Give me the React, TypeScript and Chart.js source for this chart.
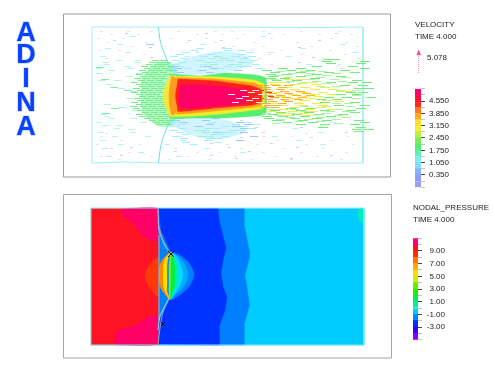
import React, { useEffect, useRef } from "react";
import { Chart, registerables } from "chart.js";

Chart.register(...registerables);

type P = number[];
const W = 495;
const H = 375;
const FONT = '"Liberation Sans", Arial, sans-serif';

/* ---------- colour bars ---------- */
const velocityTicks = [-0.35, 0, 0.35, 0.7, 1.05, 1.4, 1.75, 2.1, 2.45, 2.8, 3.15, 3.5, 3.85, 4.2, 4.55, 4.9, 5.25];
const velocityLabels = ["0.350", "1.050", "1.750", "2.450", "3.150", "3.850", "4.550"];
const velocityColors = ["#9a9ff0", "#8f9cff", "#88b4ff", "#88d8ff", "#80eeee", "#66eeb0", "#55ee77", "#77ee55", "#bbee44", "#eeee33", "#ffdd33", "#ffaa22", "#ff7722", "#ff2a22", "#ff1040", "#ff0070"];
const pressureTicks = [-5, -4, -3, -2, -1, 0, 1, 2, 3, 4, 5, 6, 7, 8, 9, 10, 11];
const pressureLabels = ["-3.00", "-1.00", "1.00", "3.00", "5.00", "7.00", "9.00"];
const pressureColors = ["#8800ff", "#3300ff", "#0033ff", "#0088ff", "#00ccff", "#00eeaa", "#00ee44", "#22ee00", "#66ee00", "#ccee00", "#ffdd00", "#ffaa00", "#ff7700", "#ff3000", "#ff1020", "#ff0080"];

/* ---------- top panel: flow speed contour bands ---------- */
const frameTop: P[] = [[63.5, 14], [390.5, 14], [390.5, 177], [63.5, 177], [63.5, 14]];
const domainTop: P[] = [[92, 27], [158, 27], [200, 27], [320, 27.5], [363, 27], [363, 163], [300, 163], [200, 163], [158, 163], [125, 162], [92, 163], [92, 27]];
const membraneTopA: P[] = [[158.5, 27], [160, 40], [163, 50], [167, 60], [172, 72]];
const membraneTopB: P[] = [[172, 117], [166, 130], [161, 145], [158.5, 163]];
const haloUp: P[] = [[142, 78], [150, 68], [162, 62], [172, 64], [176, 72], [176, 118], [172, 126], [160, 126], [150, 120], [142, 110]];
const jetCyanTop: P[] = [[170, 66], [195, 56], [230, 52], [254, 62], [225, 72], [200, 74], [176, 74]];
const jetCyanBottom: P[] = [[170, 124], [195, 136], [225, 138], [246, 130], [225, 120], [200, 118], [176, 116]];
const jetGreen: P[] = [[170, 74], [200, 76], [225, 73], [256, 75], [266, 78], [266, 114], [256, 116], [225, 118], [190, 118], [170, 118]];
const jetYellow: P[] = [[170, 76], [220, 77], [254, 80], [264, 84], [264, 108], [254, 110], [220, 114], [170, 116]];
const jetOrange: P[] = [[172, 77.5], [215, 79], [254, 83], [262, 87], [262, 105], [254, 107], [215, 111], [172, 113.5]];
const jetRed: P[] = [[175, 79], [215, 81], [252, 86], [261, 90], [261, 102], [252, 105], [215, 108], [175, 111]];
const jetPink: P[] = [[180, 85], [205, 85], [244, 90], [248, 96], [244, 103], [205, 107], [180, 107]];
const noseYellow: P[] = [[171, 75], [166, 84], [163, 96], [166, 108], [171, 117], [177, 112], [174, 96], [177, 79]];
const noseOrange: P[] = [[172, 76], [170, 85], [169, 96], [170, 108], [172, 115], [177, 111], [175, 96], [177, 80]];

/* ---------- top panel: velocity arrows, rows of [y, x, x, ...] ---------- */
const paleDots: P[] = [
  [31, 100, 127, 150, 177, 214, 231, 262, 300, 339], [34, 110, 137, 196, 221, 243, 282, 318, 350],
  [38, 97, 122, 170, 205, 236, 270, 330], [42, 106, 145, 186, 214, 253, 296, 345],
  [46, 130, 164, 232, 262, 310, 356], [50, 98, 118, 250, 280, 329], [54, 143, 268, 300, 344],
  [58, 105, 258, 322, 358], [64, 270, 338], [136, 100, 180, 262, 290, 346], [140, 120, 205, 242, 276, 330],
  [144, 96, 138, 226, 256, 305, 352], [148, 110, 174, 240, 283, 322], [152, 128, 196, 218, 262, 300, 345],
  [156, 100, 150, 186, 234, 274, 316], [159, 118, 168, 208, 250, 290, 340], [133, 105, 240, 305],
];
const lavDots: P[] = [
  [33, 125, 205, 268, 335], [40, 113, 188, 220, 318], [47, 149, 222, 298], [52, 196, 247, 352],
  [57, 150, 244, 312], [62, 240, 298], [68, 262, 340], [120, 240, 282], [127, 255, 300], [132, 262, 345],
  [137, 240, 310], [143, 210, 270], [147, 130, 228, 296], [151, 174, 248], [155, 120, 210, 330], [158, 235, 290],
];
const cyanFar: P[] = [
  [36, 130, 260], [44, 118, 200, 340], [48, 105, 226, 300],
  [52, 125, 268, 352], [56, 100, 184, 286], [60, 116, 135, 318], [64, 104, 306],
  [68, 96, 128], [116, 104, 300], [122, 96, 330], [128, 114, 292], [132, 98, 130, 318],
  [136, 112, 145, 272], [140, 100, 180, 296], [144, 118, 164, 320], [148, 102, 204],
  [152, 138, 240], [156, 106, 176],
];
const mintLeft: P[] = [
  [62, 102, 134], [66, 124], [70, 108], [73, 96, 136], [76, 126], [80, 98, 114], [84, 106], [88, 118], [91, 130],
  [98, 126], [104, 104], [107, 118], [110, 132], [114, 100], [118, 108, 130], [122, 140], [125, 102, 116], [129, 128],
];
const greenFar: P[] = [[67, 96], [79, 101], [87, 110], [90, 124], [106, 130], [108, 111], [113, 102]];
const greenLeft: P[] = [
  [60, 152, 160], [62, 149, 156, 164], [64, 146, 154, 161], [66, 141, 150, 158, 167], [68, 144, 153, 162],
  [70, 139, 148, 156, 165], [72, 142, 151, 160], [74, 136, 146, 154, 163], [76, 140, 149, 158], [78, 134, 143, 152, 160],
  [80, 138, 147, 156], [82, 131, 141, 150, 158], [84, 136, 145, 153, 161], [86, 139, 148, 157], [88, 133, 142, 151, 159],
  [90, 137, 146, 155], [92, 131, 140, 149, 158], [94, 136, 145, 153], [96, 139, 148, 157], [98, 134, 143, 152, 160],
  [100, 137, 146, 155], [102, 131, 141, 150, 158], [104, 136, 145, 153, 161], [106, 140, 149, 158], [108, 133, 143, 152, 160],
  [110, 137, 146, 155, 163], [112, 142, 151, 159], [114, 136, 145, 154, 162], [116, 139, 148, 157, 165], [118, 144, 153, 161],
  [120, 149, 158, 166], [122, 153, 162], [124, 156, 164],
];
const cyanJet: P[] = [
  [48, 196, 222], [50, 190, 224, 238], [52, 182, 214, 246], [54, 176, 208, 238], [56, 170, 200, 232, 248],
  [58, 180, 208, 240], [60, 172, 216, 250], [62, 178, 210, 242], [64, 172, 200, 234, 252],
  [66, 176, 224, 244], [68, 184, 216, 256],
  [122, 172, 208, 244], [124, 178, 232, 252], [126, 172, 222, 240], [128, 178, 212, 248],
  [130, 170, 202, 238], [132, 176, 228], [134, 182, 216], [136, 172, 206, 222], [138, 180, 214],
  [140, 204], [142, 182, 214], [144, 190],
];
const blueJet: P[] = [
  [66, 170, 204], [68, 174, 210], [70, 170, 198, 234], [72, 176, 206],
  [118, 176, 212], [120, 172, 202], [122, 180, 236], [124, 206, 244], [126, 194, 232], [128, 240],
  [132, 212, 240], [136, 250], [140, 236], [44, 146],
];
const mintJet: P[] = [
  [56, 214], [58, 220], [60, 196, 226], [62, 204, 238], [64, 210, 228], [66, 200, 236],
  [126, 196, 234], [128, 204], [130, 194, 230], [132, 202, 220], [134, 210], [136, 198], [138, 206],
];
const greenDown: P[] = [
  [59, 324, 330], [61, 322, 360], [63, 326, 356], [66, 312, 348], [68, 278, 296, 360], [70, 262, 286, 306, 340],
  [72, 270, 296, 324, 350], [74, 266, 282, 312], [76, 268, 296, 336], [78, 266, 280, 310], [80, 272, 292, 352], [82, 280, 326, 348, 362],
  [85, 340, 358], [88, 354, 364], [92, 346, 358], [94, 336, 352], [97, 324, 342, 366], [99, 316, 332],
  [102, 320, 350], [105, 334, 360], [108, 286, 306, 356], [110, 270, 296, 320, 346], [112, 276, 304, 350], [114, 268, 292, 314, 338],
  [116, 262, 278, 300, 326], [118, 264, 290, 312], [120, 272, 298, 322, 354], [122, 282, 308, 360], [124, 296, 320, 350], [127, 318, 356],
  [129, 352, 364], [131, 354],
];
const paleGreenDown: P[] = [
  [71, 276, 300, 318], [73, 288, 306, 332], [75, 274, 304, 322], [77, 284, 316, 342], [79, 270, 306, 330], [81, 286, 312, 338],
  [83, 298, 322], [86, 316, 332], [90, 336, 352], [95, 352], [98, 352], [103, 332, 344], [106, 300, 322, 346], [109, 268, 290, 334],
  [111, 300, 326, 342], [113, 262, 286, 322], [115, 274, 306, 334], [117, 286, 316, 342], [119, 276, 304, 332], [121, 294, 316], [123, 272, 334],
];
const yellowDown: P[] = [
  [79, 284, 296], [82, 268, 278, 300, 308], [84, 270, 290, 312], [87, 282, 300, 320], [89, 290, 310, 328], [92, 274, 298, 318],
  [94, 288, 310, 326], [96, 276, 300, 314], [98, 290, 306], [100, 282, 300, 322], [103, 270, 294, 312], [105, 278, 298, 318],
  [107, 264, 290, 316], [109, 278, 304, 326], [111, 266, 288, 308], [113, 276, 298], [115, 284, 302], [91, 336, 344], [101, 334],
];
const orangeDown: P[] = [
  [85, 260, 272, 284], [87, 262, 278], [89, 262, 276], [91, 264, 280, 296], [93, 268, 284, 302], [95, 264, 276, 292, 306],
  [97, 270, 282, 298], [99, 264, 280, 294], [101, 268, 284], [103, 262, 278], [105, 264, 272], [107, 260, 270],
];
const redFringe: P[] = [[90, 258], [92, 256, 266], [94, 258], [96, 254, 268], [98, 258], [100, 256], [102, 254]];
const whiteStreak: P[] = [
  [88, 272, 306], [90, 240, 252, 290], [92, 248, 282], [94, 228, 258, 276], [96, 242, 296], [98, 236, 252, 272], [100, 246, 286],
  [102, 232, 256, 296], [104, 262, 282],
];

/* ---------- bottom panel: pressure contours ---------- */
const frameBottom: P[] = [[63.5, 194.5], [391.5, 194.5], [391.5, 358], [63.5, 358], [63.5, 194.5]];
const domainBottom: P[] = [[91, 208], [364, 208], [364, 345], [91, 345], [91, 208]];
const redRegion: P[] = [[91, 208.5], [160, 208.5], [160, 345], [91, 345]];
const pinkUpper: P[] = [[121, 209], [159, 209], [159, 240], [150, 240], [141, 234], [132, 222], [122, 215]];
const pinkLower: P[] = [[115, 345], [159, 343.5], [160, 316], [146, 318], [136, 325], [119, 330], [115, 337]];
const orangeBump: P[] = [[162, 255], [152, 262], [145, 275], [150, 288], [161, 298]];
const cyanRegion: P[] = [[159, 208.5], [364, 208.5], [364, 345], [159, 345]];
const midBlue: P[] = [[159, 208.5], [244, 208.5], [244, 223], [249, 250], [249.5, 257], [245, 275], [248, 295], [249.5, 305], [244, 325], [244, 345], [159, 345]];
const darkBlue: P[] = [[159, 208.5], [218, 208.5], [219, 220], [226, 248], [223, 260], [221, 273], [223, 287], [227, 297], [225, 310], [219, 327], [219, 345], [159, 344], [160, 320], [170, 298], [171, 252], [161, 230]];
const tealCorner: P[] = [[358, 211], [361, 208.5], [364, 209], [364, 223], [360, 221], [358, 216]];
const blobs: P[][] = [
  [[171, 252], [181, 256], [189, 263], [194, 274], [190, 285], [181, 294], [170, 299]],
  [[171, 252], [178, 256], [184, 263], [188, 274], [185, 285], [177, 293], [170, 299]],
  [[171, 252], [176, 256], [180, 264], [183, 274], [180, 285], [175, 293], [170, 299]],
  [[171, 252], [174, 257], [177, 264], [178, 274], [177, 285], [173, 293], [170, 299]],
  [[171, 252], [173, 257], [174.5, 265], [175, 275], [174.5, 285], [172, 293], [170, 299]],
  [[171, 252], [170, 258], [169, 266], [169, 275], [169, 284], [169, 292], [170, 299]],
  [[171, 252], [168, 258], [167, 266], [167, 275], [167, 284], [167, 292], [170, 299], [162, 288], [160, 275], [162, 262]],
  [[170, 252], [165, 258], [163, 266], [163, 275], [163, 284], [165, 292], [169, 299], [161, 288], [159, 275], [161, 262]],
];
const blobColors = ["#0080ff", "#00aaff", "#00ddff", "#00eeaa", "#00ee44", "#88ee00", "#ffdd00", "#ff8800"];
const sheetLines: P[][] = [
  [[158, 209], [159, 230], [165, 246], [171, 254]],
  [[158, 222], [162, 238], [170, 254]],
  [[159, 235], [159, 262], [159, 290], [159, 320]],
  [[170, 297], [163, 312], [160, 328], [158, 344]],
  [[169, 298], [160, 316], [158, 330]],
];
const knotA: P[] = [[168, 251], [174, 257], [171, 254], [174, 251], [168, 257]];
const knotB: P[] = [[161, 322], [165, 326], [163, 324], [165, 322], [161, 326]];

/* ---------- arrow key ---------- */
const arrowShaft: P[] = [[418.7, 54], [418.7, 73]];
const arrowHead: P[] = [[418.7, 50], [416.8, 55], [420.6, 55]];

/* ---------- text ---------- */
const logoLetters = ["A", "D", "I", "N", "A"];
const logoBaselines = [41, 63, 87, 111, 135];
const notes: [string, number, number][] = [
  ["VELOCITY", 415, 26.5], ["TIME 4.000", 415, 38.5], ["5.078", 427, 59.5],
  ["NODAL_PRESSURE", 413, 210], ["TIME 4.000", 413, 222],
];

const pts = (a: P[]) => a.map(([x, y]) => ({ x, y }));
let drawIndex = 0;
const base = () => ({ showLine: true, pointRadius: 0, pointHoverRadius: 0, order: -drawIndex++, spanGaps: false });
const poly = (a: P[], color: string, tension = 0) => ({
  ...base(), data: pts(a.concat([a[0]])), backgroundColor: color, borderColor: color, borderWidth: 0.5, fill: "shape", tension,
});
const line = (a: P[], color: string, width = 1, tension = 0) => ({
  ...base(), data: pts(a), borderColor: color, borderWidth: width, fill: false, tension,
});
const dashes = (rows: P[], len: number, color: string) => {
  const data: { x: number; y: number }[] = [];
  rows.forEach(([y, ...xs]) => xs.forEach((x) => {
    data.push({ x, y: y + 0.5 }, { x: x + len, y: y + 0.5 }, { x: NaN, y: NaN });
  }));
  return { ...base(), data, borderColor: color, borderWidth: 1, fill: false };
};

function figureDatasets() {
  drawIndex = 0;
  return [
    line(frameTop, "#a29b9f"),
    line(frameBottom, "#a5a5a8"),
    // velocity
    dashes(paleDots, 3, "#f8dcec"),
    dashes(lavDots, 3, "#d0d0f6"),
    dashes(cyanFar, 6, "#b4f2fa"),
    dashes(mintLeft, 7, "#b4f4dc"),
    dashes(greenFar, 8, "#7cf0a0"),
    poly(haloUp, "rgba(110,240,140,0.5)", 0.3),
    poly(jetCyanTop, "rgba(130,225,255,0.36)", 0.3),
    poly(jetCyanBottom, "rgba(130,225,255,0.36)", 0.3),
    dashes(cyanJet, 8, "#a4eeff"),
    dashes(mintJet, 8, "#98f2cc"),
    dashes(blueJet, 8, "#a0c8ff"),
    dashes(greenLeft, 7, "#70ee88"),
    line(domainTop, "#a0f0f4"),
    line(membraneTopA, "#66e0ea", 1, 0.3),
    line(membraneTopB, "#66e0ea", 1, 0.3),
    poly(jetGreen, "#55ee70", 0.1),
    poly(jetYellow, "#eeee2a", 0.1),
    poly(jetOrange, "#ff9a1c", 0.1),
    poly(jetRed, "#ff1f22", 0.1),
    poly(jetPink, "#ff0066", 0.2),
    poly(noseYellow, "#f2e83a", 0.2),
    poly(noseOrange, "#ff9a22", 0.2),
    dashes(paleGreenDown, 9, "#b0f2a8"),
    dashes(greenDown, 10, "#70ee78"),
    dashes(yellowDown, 10, "#eeee44"),
    dashes(orangeDown, 9, "#ffb030"),
    dashes(redFringe, 6, "#ff3a20"),
    dashes(whiteStreak, 7, "#ffece4"),
    // pressure
    poly(redRegion, "#ff1424"),
    poly(pinkUpper, "#ff0066", 0.2),
    poly(pinkLower, "#ff0066", 0.2),
    poly(orangeBump, "#ff3a08", 0.3),
    poly(cyanRegion, "#00ccff"),
    poly(tealCorner, "#00eebb", 0.2),
    poly(midBlue, "#0080ff"),
    poly(darkBlue, "#0033ff"),
    ...blobs.map((b, i) => poly(b, blobColors[i], 0.3)),
    line(domainBottom, "#80e8f2"),
    ...sheetLines.map((s, i) => line(s, i === 2 ? "#a8b0c0" : i % 2 ? "#b09cb0" : "#80e0ec", 1, 0.2)),
    line(knotA, "#101020"),
    line(knotB, "#101030"),
    // key arrow
    { ...line(arrowShaft, "#f07aa8"), borderDash: [1, 1] },
    poly(arrowHead, "#f04a90"),
  ];
}

const figureText = {
  id: "figureText",
  afterDraw(chart: Chart) {
    const ctx = chart.ctx;
    ctx.save();
    ctx.textAlign = "center";
    ctx.textBaseline = "alphabetic";
    ctx.font = `bold 27px ${FONT}`;
    logoLetters.forEach((l, i) => {
      ctx.strokeStyle = "rgba(150,190,255,0.6)";
      ctx.lineWidth = 1.5;
      ctx.strokeText(l, 26, logoBaselines[i]);
      ctx.fillStyle = "#0a40ff";
      ctx.fillText(l, 26, logoBaselines[i]);
    });
    ctx.textAlign = "left";
    ctx.font = `8px ${FONT}`;
    ctx.fillStyle = "#222";
    notes.forEach(([t, x, y]) => ctx.fillText(t, x, y));
    ctx.restore();
  },
};

function colorBar(canvas: HTMLCanvasElement, ticks: number[], labels: string[], colors: string[], fmt: (v: number) => string, padding: number, axisWidth: number) {
  return new Chart(canvas, {
    type: "bar",
    data: {
      labels: [""],
      datasets: colors.map((c, i) => ({
        data: [[ticks[i], ticks[i + 1]]] as any,
        backgroundColor: c,
        barPercentage: 1,
        categoryPercentage: 1,
        borderWidth: 0,
      })),
    },
    options: {
      responsive: false,
      animation: false,
      layout: { padding: { top: 5, bottom: 5, left: 0, right: 0 } },
      plugins: { legend: { display: false }, tooltip: { enabled: false }, title: { display: false } },
      scales: {
        x: { stacked: true, display: false },
        y: {
          position: "right",
          min: ticks[0],
          max: ticks[ticks.length - 1],
          afterBuildTicks: (s: any) => { s.ticks = ticks.map((value) => ({ value })); },
          afterFit: (s: any) => { s.width = axisWidth; },
          border: { display: false },
          grid: {
            drawOnChartArea: false,
            drawTicks: true,
            tickLength: 4,
            tickColor: (c: any) => (labels.includes(fmt(c.tick.value)) ? "#444" : "#c4c4c4"),
          },
          ticks: {
            autoSkip: false,
            padding,
            crossAlign: "far",
            color: "#222",
            font: { family: FONT, size: 8 },
            callback: (v: any) => (labels.includes(fmt(Number(v))) ? fmt(Number(v)) : ""),
          },
        },
      },
    } as any,
  });
}

const soft = "blur(0.35px)";

export default function App() {
  const fig = useRef<HTMLCanvasElement>(null);
  const velBar = useRef<HTMLCanvasElement>(null);
  const preBar = useRef<HTMLCanvasElement>(null);

  useEffect(() => {
    const main = new Chart(fig.current!, {
      type: "scatter",
      data: { datasets: figureDatasets() as any },
      options: {
        responsive: false,
        animation: false,
        layout: { padding: 0 },
        plugins: { legend: { display: false }, tooltip: { enabled: false } },
        scales: {
          x: { type: "linear", min: 0, max: W, display: false },
          y: { type: "linear", min: 0, max: H, reverse: true, display: false },
        },
      } as any,
      plugins: [figureText],
    });
    const v = colorBar(velBar.current!, velocityTicks, velocityLabels, velocityColors, (n) => n.toFixed(3), 4, 28);
    const p = colorBar(preBar.current!, pressureTicks, pressureLabels, pressureColors, (n) => n.toFixed(2), 2.5, 27);
    return () => { main.destroy(); v.destroy(); p.destroy(); };
  }, []);

  return (
    <div style={{ position: "absolute", left: 0, top: 0, width: W, height: H, background: "#fff" }}>
      <canvas ref={fig} width={W} height={H} style={{ position: "absolute", left: 0, top: 0, display: "block", filter: soft }} />
      <canvas ref={velBar} width={34} height={116} style={{ position: "absolute", left: 415, top: 80, display: "block", filter: soft }} />
      <canvas ref={preBar} width={32} height={116} style={{ position: "absolute", left: 413, top: 231, display: "block", filter: soft }} />
    </div>
  );
}
